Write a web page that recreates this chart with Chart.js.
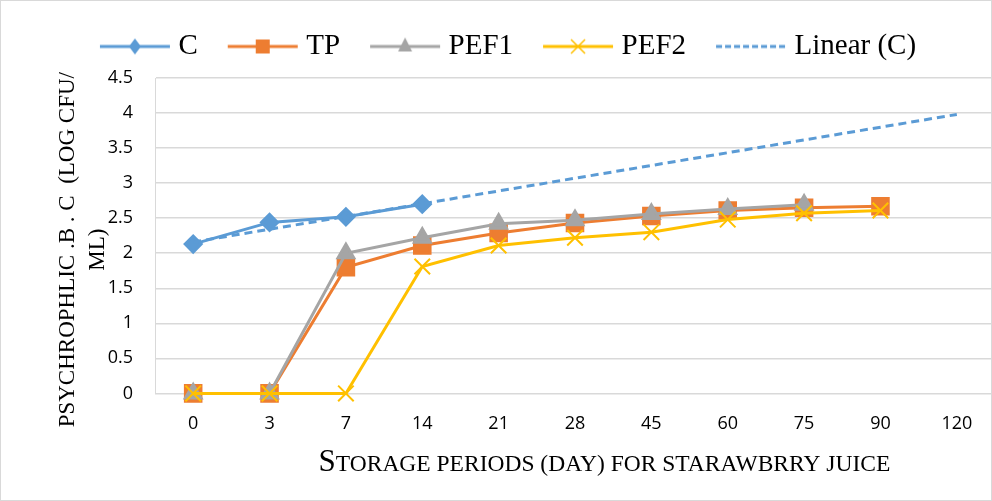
<!DOCTYPE html>
<html>
<head>
<meta charset="utf-8">
<script src="https://cdn.jsdelivr.net/npm/chart.js@4/dist/chart.umd.min.js"></script>
<style>
  html, body { margin: 0; padding: 0; background: #fff; }
  #wrap { width: 992px; height: 501px; box-sizing: border-box; border: 1px solid #d9d9d9; overflow: hidden; }
</style>
</head>
<body>
<div id="wrap"><canvas id="chart" width="994" height="499"></canvas></div>
<script>
// storage days (categories)
const days = ['0', '3', '7', '14', '21', '28', '45', '60', '75', '90', '120'];

// series values (log CFU/ml)
const cValues    = [2.13, 2.44, 2.52, 2.70, null, null, null, null, null, null, null];
const tpValues   = [0, 0, 1.80, 2.11, 2.29, 2.43, 2.53, 2.61, 2.65, 2.67, null];
const pef1Values = [0, 0, 2.00, 2.22, 2.42, 2.47, 2.56, 2.63, 2.69, null, null];
const pef2Values = [0, 0, 0, 1.81, 2.11, 2.22, 2.30, 2.48, 2.57, 2.61, null];

// linear trend of C, start and end as drawn
const trendDays   = ['0', '120'];
const trendValues = [2.16, 3.98];

const yMax = 4.5;
const yStep = 0.5;

const BLUE = '#5B9BD5', ORANGE = '#ED7D31', GRAY = '#A5A5A5', GOLD = '#FFC000';

// little legend icon: a line with the marker on it
function legendIcon(color, marker, dashed) {
  const c = document.createElement('canvas');
  c.width = 72; c.height = 24;
  const g = c.getContext('2d');
  g.strokeStyle = color;
  g.fillStyle = color;
  g.lineWidth = 3;
  if (dashed) g.setLineDash([6, 3]);
  g.beginPath(); g.moveTo(1, 12); g.lineTo(71, 12); g.stroke();
  g.setLineDash([]);
  const x = 36, y = 12;
  g.beginPath();
  if (marker === 'diamond') {
    g.moveTo(x, y - 8); g.lineTo(x + 6, y); g.lineTo(x, y + 8); g.lineTo(x - 6, y); g.closePath(); g.fill();
  } else if (marker === 'square') {
    g.rect(x - 7, y - 7, 14, 14); g.fill();
  } else if (marker === 'triangle') {
    g.moveTo(x, y - 9); g.lineTo(x + 7, y + 5); g.lineTo(x - 7, y + 5); g.closePath(); g.fill();
  } else if (marker === 'cross') {
    g.lineWidth = 1.5;
    g.moveTo(x - 7, y - 7); g.lineTo(x + 7, y + 7);
    g.moveTo(x + 7, y - 7); g.lineTo(x - 7, y + 7); g.stroke();
  }
  return c;
}

const legendItems = [
  { text: 'C', icon: legendIcon(BLUE, 'diamond'), ds: 0 },
  { text: 'TP', icon: legendIcon(ORANGE, 'square'), ds: 1 },
  { text: 'PEF1', icon: legendIcon(GRAY, 'triangle'), ds: 2 },
  { text: 'PEF2', icon: legendIcon(GOLD, 'cross'), ds: 3 },
  { text: 'Linear (C)', icon: legendIcon(BLUE, null, true), ds: 4 }
];

// a bit more room under the legend
const legendGap = {
  id: 'legendGap',
  beforeInit(chart) {
    const fit = chart.legend.fit;
    chart.legend.fit = function () {
      fit.call(this);
      this.height += 7;
    };
  }
};

// y axis title: two rotated lines, sitting a little below the plot middle
const yTitlePlugin = {
  id: 'yTitle',
  afterDraw(chart) {
    const ctx = chart.ctx;
    const area = chart.chartArea;
    const lines = ['PSYCHROPHLIC .B . C  (LOG CFU/', 'ML)'];
    const cy = (area.top + area.bottom) / 2 + 14;
    ctx.save();
    ctx.fillStyle = '#000';
    ctx.font = '23px "Liberation Serif"';
    ctx.textAlign = 'center';
    ctx.textBaseline = 'middle';
    lines.forEach((t, i) => {
      ctx.save();
      ctx.translate(area.left - 87 + i * 30, cy);
      ctx.rotate(-Math.PI / 2);
      ctx.fillText(t, 0, 0);
      ctx.restore();
    });
    ctx.restore();
  }
};

// x axis title in small caps, a bit right of the plot centre like the original
const xTitlePlugin = {
  id: 'xTitle',
  afterDraw(chart) {
    const ctx = chart.ctx;
    const area = chart.chartArea;
    const first = 'S';
    const rest = 'TORAGE PERIODS (DAY) FOR STARAWBRRY JUICE';
    const bigFont = '31px "Liberation Serif"';
    const smallFont = '23.5px "Liberation Serif"';
    ctx.save();
    ctx.fillStyle = '#000';
    ctx.textBaseline = 'alphabetic';
    ctx.font = bigFont;
    const w1 = ctx.measureText(first).width;
    ctx.font = smallFont;
    const w2 = ctx.measureText(rest).width;
    const cx = area.left + (area.right - area.left) * 0.535;
    const x0 = cx - (w1 + w2) / 2;
    const y = area.bottom + 78;
    ctx.font = bigFont;
    ctx.fillText(first, x0, y);
    ctx.font = smallFont;
    ctx.fillText(rest, x0 + w1, y);
    ctx.restore();
  }
};

new Chart(document.getElementById('chart'), {
  type: 'line',
  data: {
    labels: days,
    datasets: [
      {
        label: 'C', data: cValues, borderColor: BLUE, backgroundColor: BLUE, clip: false,
        borderWidth: 3, pointStyle: 'rectRot', pointRadius: 8, pointHoverRadius: 8, order: 3
      },
      {
        label: 'TP', data: tpValues, borderColor: ORANGE, backgroundColor: ORANGE, clip: false,
        borderWidth: 3, pointStyle: 'rect', pointRadius: 11, pointHoverRadius: 11, order: 2
      },
      {
        label: 'PEF1', data: pef1Values, borderColor: GRAY, backgroundColor: GRAY, clip: false,
        borderWidth: 3, pointStyle: 'triangle', pointRadius: 9, pointHoverRadius: 9, order: 1
      },
      {
        label: 'PEF2', data: pef2Values, borderColor: GOLD, backgroundColor: GOLD, clip: false,
        borderWidth: 3, pointStyle: 'crossRot', pointRadius: 11, pointBorderWidth: 2, pointHoverRadius: 11, order: 0
      },
      {
        label: 'Linear (C)',
        data: trendDays.map((d, i) => ({ x: d, y: trendValues[i] })),
        borderColor: BLUE, borderWidth: 3, borderDash: [8, 5], clip: false,
        pointRadius: 0, pointHoverRadius: 0, order: -1
      }
    ]
  },
  options: {
    responsive: false,
    animation: false,
    layout: { autoPadding: false, padding: { left: 26, right: 0, top: -5, bottom: 45 } },
    plugins: {
      tooltip: { enabled: false },
      legend: {
        position: 'top',
        labels: {
          usePointStyle: true,
          pointStyleWidth: 58,
          padding: 36,
          color: '#000',
          font: { family: 'Liberation Serif', size: 29 },
          generateLabels: () => legendItems.map(it => ({
            text: it.text,
            pointStyle: it.icon,
            datasetIndex: it.ds,
            fillStyle: 'transparent',
            strokeStyle: 'transparent',
            lineWidth: 0,
            fontColor: '#000',
            hidden: false
          }))
        }
      }
    },
    scales: {
      x: {
        offset: true,
        afterFit(scale) { scale.paddingRight = 0; scale.paddingLeft = 0; },
        grid: { display: false, drawTicks: false, offset: true },
        border: { display: true, color: '#d9d9d9', width: 1 },
        ticks: {
          color: '#000', padding: 20,
          font: { family: 'Open Sans', size: 18 }
        }
      },
      y: {
        min: 0, max: yMax,
        afterFit(scale) { scale.width = 128; },
        grid: { color: '#d9d9d9', lineWidth: 1.5, drawTicks: false },
        border: { display: true, color: '#d9d9d9', width: 1 },
        ticks: {
          stepSize: yStep, color: '#000', padding: 22,
          font: { family: 'Open Sans', size: 18 },
          callback: v => String(v)
        },
        title: { display: false }
      }
    }
  },
  plugins: [legendGap, yTitlePlugin, xTitlePlugin]
});
</script>
</body>
</html>
